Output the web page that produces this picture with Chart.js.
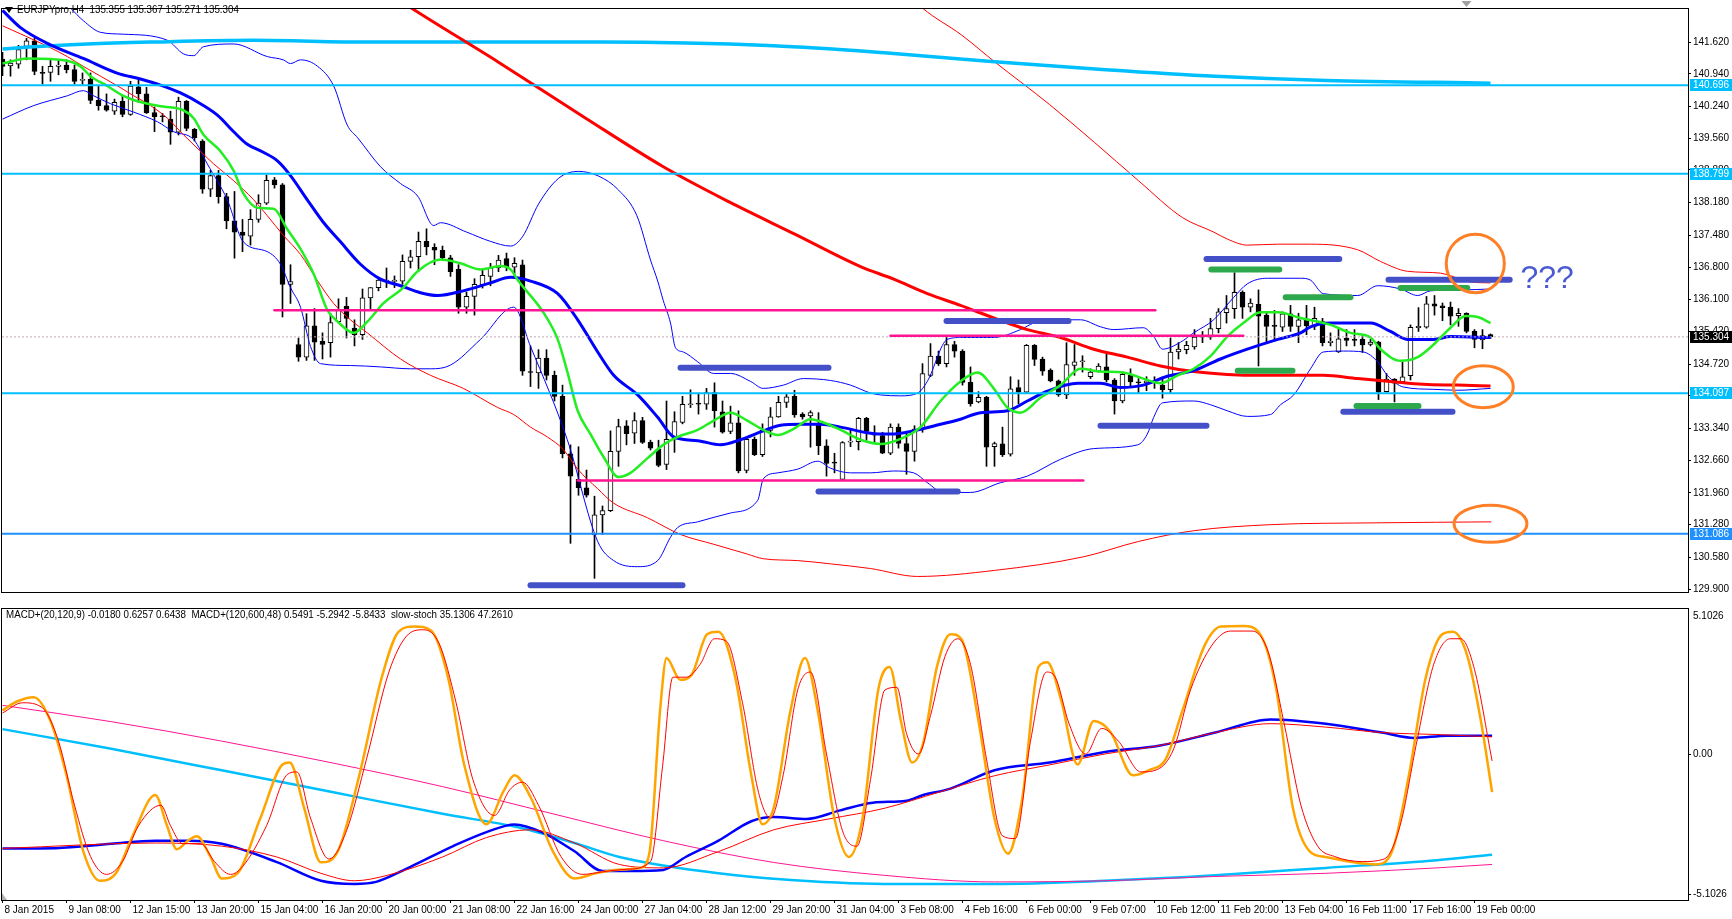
<!DOCTYPE html>
<html>
<head>
<meta charset="utf-8">
<script src="https://cdn.jsdelivr.net/npm/chart.js@4.4.1/dist/chart.umd.min.js"></script>
<style>
  html, body { margin: 0; padding: 0; background: #fff; }
  #main { position: absolute; left: 0; top: 0; }
  #sub { position: absolute; left: 0; top: 600px; }
</style>
</head>
<body>
<canvas id="main" width="1732" height="600"></canvas>
<canvas id="sub" width="1732" height="319"></canvas>
<script>
// ---- EURJPYpro H4 candles (bar index 0..186) ----
const opens = [
  141.25,141.11,141.15,141.53,141.65,140.96,140.97,141.10,141.13,141.03,
  140.80,140.82,140.37,140.26,140.14,140.35,140.07,140.66,140.51,140.11,
  140.03,139.97,139.69,140.35,139.75,139.50,138.47,138.76,138.31,137.79,
  137.55,137.46,137.82,138.17,138.67,138.56,136.43,135.14,134.87,135.54,
  135.21,135.18,135.63,135.96,135.49,135.35,136.14,136.36,136.50,136.49,
  136.50,136.92,137.02,137.35,137.22,137.16,137.00,136.75,135.94,136.17,
  136.42,136.60,136.78,136.98,136.80,136.85,134.56,134.53,134.85,134.48,
  134.03,132.80,132.25,132.07,131.06,131.49,131.58,132.85,133.40,133.24,
  133.51,133.05,132.90,132.57,133.11,133.47,133.85,133.87,133.86,134.11,
  133.70,133.28,133.46,132.44,133.11,132.78,133.30,133.59,133.90,134.03,
  133.65,133.61,133.44,132.97,132.61,132.25,133.05,133.06,133.56,133.23,
  133.19,132.81,133.37,133.02,132.85,133.33,134.48,134.89,134.73,135.14,
  135.00,134.33,133.91,134.01,132.95,133.01,132.79,134.22,134.12,135.12,
  134.83,134.59,134.36,134.06,134.69,134.77,134.45,134.57,134.66,134.38,
  133.93,134.48,134.33,134.32,134.33,134.27,134.17,134.98,135.03,135.09,
  135.30,135.30,135.48,135.82,135.91,136.26,135.94,136.00,135.77,135.54,
  135.51,135.80,135.53,135.67,135.53,135.63,135.18,134.98,135.28,135.24,
  135.25,135.14,135.19,134.13,134.40,134.34,134.47,135.50,135.51,136.01,
  135.97,135.94,135.76,135.81,135.42,135.24,135.355
];
const highs = [
  141.40,141.24,141.55,141.70,141.70,141.10,141.24,141.24,141.24,141.13,
  140.96,140.96,140.68,140.51,140.40,140.47,140.78,140.85,140.65,140.23,
  140.09,140.14,140.44,140.37,139.77,139.53,138.87,138.87,138.38,138.42,
  137.82,138.03,138.35,138.77,138.72,138.59,136.85,135.28,135.80,135.91,
  135.39,135.81,136.12,136.15,135.67,136.33,136.36,136.57,136.78,136.61,
  137.06,137.16,137.55,137.62,137.30,137.25,137.05,136.85,136.26,136.55,
  136.75,136.88,137.05,137.10,137.00,136.95,135.11,135.03,135.03,134.57,
  134.27,132.99,132.95,132.45,131.89,131.68,133.29,133.54,133.51,133.68,
  133.58,133.09,133.09,133.93,133.70,134.03,134.17,134.10,134.20,134.32,
  133.93,133.82,133.72,133.16,133.16,133.44,133.79,134.03,134.07,134.16,
  133.68,133.72,133.68,133.10,132.81,133.06,133.31,133.58,133.58,133.40,
  133.26,133.44,133.44,133.23,133.40,134.73,135.16,135.00,135.32,135.21,
  135.03,134.66,134.13,134.03,133.05,133.37,134.45,134.38,135.14,135.14,
  134.87,134.62,134.38,135.18,135.14,134.90,134.62,134.73,134.97,134.41,
  134.55,134.62,134.41,134.45,134.45,134.41,135.28,135.18,135.21,135.46,
  135.42,135.70,135.91,136.19,136.68,136.29,136.12,136.31,135.84,135.87,
  135.84,135.98,135.81,135.98,135.94,135.70,135.39,135.49,135.46,135.46,
  135.35,135.25,135.21,134.52,134.41,134.76,135.56,135.93,136.17,136.19,
  136.03,136.05,135.91,135.82,135.46,135.46,135.367
];
const lows = [
  140.90,140.89,141.06,141.24,140.92,140.72,140.78,140.92,140.96,140.72,
  140.72,140.30,140.16,140.14,140.07,140.02,140.05,140.33,140.09,139.70,
  139.91,139.43,139.63,139.72,139.50,138.38,138.31,138.17,137.62,136.99,
  137.13,137.27,137.76,138.14,138.49,135.73,136.02,134.78,134.80,134.80,
  134.83,134.87,135.60,135.28,135.11,135.25,135.91,136.29,136.36,136.36,
  136.43,136.78,136.71,137.06,136.85,136.95,136.60,135.81,135.81,135.77,
  136.35,136.40,136.70,136.72,136.62,134.48,134.24,134.20,134.38,133.93,
  132.71,130.88,131.91,131.87,130.13,131.07,131.56,132.53,132.99,133.02,
  133.02,132.88,132.52,132.46,132.83,133.44,133.79,133.65,133.75,133.37,
  133.24,133.23,132.39,132.39,132.76,132.74,133.16,133.58,133.79,133.58,
  133.54,132.94,132.78,132.32,132.39,132.24,132.95,132.88,133.09,133.02,
  132.80,132.78,132.92,132.36,132.64,133.26,134.45,134.69,134.66,134.87,
  134.27,133.82,133.89,132.53,132.53,132.74,132.75,133.87,134.10,134.69,
  134.48,134.34,134.03,133.98,134.48,134.55,134.41,134.55,134.34,133.65,
  133.89,134.24,134.10,134.15,134.20,133.99,134.10,134.83,134.94,135.04,
  135.18,135.25,135.39,135.60,135.70,135.70,135.84,134.68,135.18,135.21,
  135.42,135.42,135.18,135.35,135.46,135.11,135.11,134.97,135.11,135.11,
  134.97,135.11,133.96,134.12,133.91,134.31,134.38,135.42,135.49,135.77,
  135.65,135.56,135.53,135.39,135.07,135.05,135.271
];
const closes = [
  141.10,141.17,141.46,141.65,140.99,140.95,141.10,141.13,141.03,140.78,
  140.80,140.37,140.26,140.16,140.33,140.07,140.68,140.51,140.11,140.02,
  140.02,139.69,140.35,139.77,139.57,138.47,138.76,138.31,137.79,137.55,
  137.48,137.82,138.17,138.66,138.56,136.43,136.49,134.87,135.54,135.19,
  135.14,135.61,135.88,135.70,135.35,136.14,136.36,136.52,136.51,136.52,
  136.92,137.02,137.35,137.23,137.16,137.00,136.70,135.94,136.17,136.43,
  136.62,136.78,136.95,136.80,136.88,134.57,134.54,134.85,134.48,134.03,
  132.80,132.32,132.07,131.91,131.49,131.58,132.85,133.38,133.23,133.51,
  133.04,132.92,132.55,133.11,133.49,133.86,133.87,133.86,134.11,133.72,
  133.26,133.46,132.43,133.11,132.78,133.30,133.59,133.90,134.02,133.63,
  133.59,133.68,132.97,132.59,132.60,133.04,133.06,133.56,133.28,133.20,
  132.81,133.37,133.02,132.85,133.33,134.52,134.89,134.73,135.14,135.00,
  134.33,133.87,134.01,132.94,133.02,132.78,134.19,134.12,135.12,134.82,
  134.57,134.36,134.06,134.71,134.77,134.78,134.55,134.68,134.38,133.93,
  134.50,134.34,134.32,134.36,134.32,134.17,134.98,135.04,135.12,135.30,
  135.31,135.48,135.84,135.91,136.26,135.94,136.03,135.75,135.53,135.53,
  135.80,135.53,135.67,135.54,135.70,135.18,135.21,135.26,135.23,135.23,
  135.13,135.19,134.12,134.40,134.31,134.45,135.51,135.53,136.01,135.96,
  135.93,135.75,135.81,135.42,135.25,135.33,135.304
];

// time axis labels, one every 8 bars
const timeLabels = [
  "8 Jan 2015", "9 Jan 08:00", "12 Jan 15:00", "13 Jan 20:00", "15 Jan 04:00",
  "16 Jan 20:00", "20 Jan 00:00", "21 Jan 08:00", "22 Jan 16:00", "24 Jan 00:00",
  "27 Jan 04:00", "28 Jan 12:00", "29 Jan 20:00", "31 Jan 04:00", "3 Feb 08:00",
  "4 Feb 16:00", "6 Feb 00:00", "9 Feb 07:00", "10 Feb 12:00", "11 Feb 20:00",
  "13 Feb 04:00", "16 Feb 11:00", "17 Feb 16:00", "19 Feb 00:00"
];
const priceTicks = [141.62, 140.94, 140.24, 139.56, 138.88, 138.18, 137.48, 136.80, 136.10,
  135.42, 134.72, 134.04, 133.34, 132.66, 131.96, 131.28, 130.58, 129.90];

// indicator lines, [bar, value]
const greenMA = [[0,141.16],[3.1,141.27],[8.1,141.22],[9.75,141.10],[11,140.89],[13.1,140.68],[15.1,140.47],[17.6,140.32],[20.1,140.24],[22.6,140.16],[23.9,139.99],[25.1,139.64],[27.25,139.28],[28.9,138.86],[30.1,138.38],[31.9,138.07],[33.9,138.05],[35.6,137.61],[37.25,137.19],[38.9,136.65],[40.6,135.88],[41.9,135.63],[43.9,135.39],[45.6,135.63],[47.6,136.02],[50.1,136.36],[51.9,136.71],[54.75,136.96],[57.25,136.88],[59.75,136.75],[62.25,136.82],[63.5,136.75],[64.5,136.50],[67.6,135.83],[69.4,135.25],[70.6,134.56],[71.9,133.72],[73.5,133.22],[75.1,132.74],[77,132.30],[78.5,132.39],[80.6,132.70],[82.6,132.99],[84.4,133.16],[86.9,133.31],[88.9,133.51],[91,133.68],[93.1,133.51],[95.1,133.31],[96.9,133.20],[98.9,133.33],[101,133.54],[102.6,133.47],[104.75,133.31],[107.25,133.10],[109.75,133.01],[112.25,133.12],[114.75,133.37],[117.25,133.93],[119.75,134.35],[121.9,134.54],[123.9,134.20],[125.6,133.79],[127.25,133.68],[129.75,134.00],[132.25,134.27],[134.75,134.62],[137.25,134.56],[140.1,134.54],[142.6,134.41],[144.75,134.31],[146.9,134.48],[148.9,134.62],[151,134.89],[153.1,135.31],[155.1,135.60],[157.25,135.83],[159.4,135.83],[162.25,135.71],[166,135.56],[168.5,135.39],[171,135.29],[172.25,135.04],[174.75,134.79],[176.9,134.87],[178.9,135.14],[181,135.50],[182.9,135.75],[184.4,135.73],[186,135.60]];
const blueMA = [[0,142.3],[2.25,141.93],[6,141.56],[10.1,141.27],[14.4,140.95],[17.25,140.83],[19.75,140.70],[22.25,140.53],[24.75,140.30],[26.9,140.05],[28.9,139.70],[30.6,139.43],[32.6,139.26],[34.4,139.07],[36,138.76],[38.1,138.24],[40.1,137.76],[42.25,137.34],[44.75,136.86],[47.25,136.54],[49.75,136.40],[52.25,136.25],[54.4,136.19],[57.6,136.29],[61,136.46],[63.5,136.58],[66,136.50],[69.4,136.23],[71.9,135.67],[74.4,134.98],[76.4,134.48],[79.4,134.06],[81.9,133.58],[83.9,133.16],[86.9,133.08],[89.75,132.99],[92.25,133.10],[95.1,133.29],[97.25,133.41],[99.75,133.43],[102.25,133.43],[104.75,133.37],[108.5,133.24],[111,133.22],[113.9,133.29],[117.25,133.43],[119.75,133.54],[122.25,133.68],[125.6,133.72],[128.1,133.93],[130.6,134.14],[134.4,134.31],[137.25,134.31],[139.75,134.22],[142.6,134.27],[145.6,134.46],[148.9,134.58],[152.25,134.83],[155.6,135.04],[159.4,135.25],[162.25,135.39],[163.5,135.52],[166,135.60],[171,135.60],[173.5,135.42],[175.6,135.25],[178.9,135.25],[181,135.31],[186,135.29]];
const redMA = [[0,147.9],[37.25,143.92],[51.1,142.35],[61.9,141.20],[72.9,139.99],[82.6,138.95],[90.9,138.19],[99.1,137.50],[107.25,136.81],[111.4,136.54],[115.6,136.23],[119.75,135.98],[123.9,135.71],[128.1,135.46],[132.25,135.29],[136.4,135.04],[140.6,134.87],[144.75,134.68],[148.9,134.56],[153.1,134.50],[157.25,134.48],[162.25,134.48],[165.1,134.48],[169.4,134.41],[173.5,134.35],[177.6,134.29],[181.9,134.27],[186,134.25]];
const cyanMA = [[0,141.47],[3.9,141.52],[10.6,141.58],[18.5,141.62],[31.4,141.66],[45.6,141.62],[54.75,141.62],[74.75,141.62],[96.4,141.54],[110.25,141.39],[124,141.20],[137.9,141.03],[151.6,140.89],[165.5,140.80],[186,140.74]];
const bbUpper = [[4.75,142.98],[8.5,142.35],[10.1,142.08],[12.25,141.83],[15.1,141.79],[20.6,141.66],[22.6,141.37],[23.9,141.33],[25.1,141.52],[28.9,141.58],[33.1,141.31],[35.1,141.24],[36,141.16],[37.25,141.24],[39.4,141.10],[41.4,140.68],[43.1,139.84],[44.4,139.57],[47.25,138.95],[49.75,138.59],[51.9,138.32],[53.9,137.69],[54.75,137.75],[58,137.55],[61,137.35],[63.5,137.25],[65,137.45],[67,138.15],[69.5,138.70],[72,138.85],[74.5,138.75],[77,138.45],[79.3,137.90],[81,136.95],[81.9,136.50],[82.6,136.08],[83.5,135.60],[84.1,135.08],[85.1,134.98],[86.9,134.77],[88.9,134.52],[91,134.52],[93.5,134.35],[95.1,134.20],[97.6,134.27],[100.1,134.41],[103.5,134.37],[106,134.27],[108.5,134.10],[109.75,134.06],[112.25,134.04],[114.4,134.10],[115.6,134.35],[118.1,135.25],[119.75,135.29],[123.9,135.29],[127.25,135.46],[128.9,135.60],[131.4,135.67],[134.75,135.67],[137.25,135.52],[138.9,135.46],[142.6,135.50],[143.9,135.31],[145,135.04],[147.25,135.19],[148.9,135.39],[151.4,135.67],[153.9,136.15],[155.6,136.44],[158.1,136.56],[162.25,136.56],[163.5,136.52],[165.1,136.23],[169.4,136.19],[171.9,136.40],[174.75,136.33],[176.9,136.19],[178.5,136.29],[182.6,136.31],[186,136.33]];
const bbLower = [[0,139.97],[3.9,140.26],[8.1,140.47],[10.1,140.58],[11.4,140.47],[13.5,140.30],[16.4,140.12],[19.4,139.91],[21.4,139.70],[23.9,139.53],[25.6,139.01],[28.1,138.24],[30.1,137.34],[33.1,137.13],[34.75,136.86],[36,136.36],[37.25,135.94],[38.5,135.10],[39.75,134.73],[43.5,134.69],[47.25,134.66],[51,134.62],[53.5,134.62],[56,134.70],[59.75,135.25],[63.9,135.94],[66,135.10],[70.6,133.10],[74.4,130.92],[76.4,130.51],[79.4,130.38],[81.9,130.51],[83.5,131.01],[84.4,131.22],[86.9,131.34],[91,131.53],[94.4,131.80],[95.1,132.26],[96.9,132.39],[99.4,132.47],[101.9,132.64],[103.5,132.49],[106,132.39],[108.5,132.39],[111.4,132.43],[113.9,132.39],[115.6,132.18],[117.6,131.97],[121,131.97],[124.75,132.18],[128.1,132.32],[132.25,132.68],[136.4,132.91],[141.9,132.99],[143.1,133.22],[143.9,133.58],[145,133.89],[148.9,133.93],[151,133.85],[153.1,133.72],[155.6,133.60],[158.5,133.64],[159.75,133.85],[161.4,134.06],[163.5,134.62],[165.1,134.98],[167.6,135.00],[170.1,134.98],[171.9,134.77],[173.1,134.48],[175.1,134.23],[178.9,134.18],[181.9,134.16],[186,134.20]];
const redUpper = [[107.25,143.71],[115,142.35],[119.9,141.77],[124,141.20],[130.9,140.28],[136.5,139.47],[142,138.65],[147.5,137.86],[151.4,137.55],[153.1,137.40],[155.6,137.27],[159.4,137.29],[163.5,137.29],[169.4,137.17],[172.25,136.92],[175.6,136.71],[179.75,136.67],[183.5,136.48],[186,136.46]];
const redLower = [[0,141.97],[5.75,141.52],[8.1,141.31],[10.1,141.10],[12.25,140.89],[14.4,140.68],[16.4,140.47],[18.5,140.26],[20.6,139.99],[22.6,139.64],[24.75,139.28],[26.4,139.01],[28.9,138.65],[31.4,138.24],[33.1,137.90],[35.1,137.48],[37.25,137.07],[39.4,136.50],[41.4,136.02],[43.5,135.67],[45.6,135.39],[49.75,134.83],[53.5,134.48],[57.6,134.20],[61.9,133.79],[63.9,133.64],[66,133.37],[68.1,133.16],[70.1,132.89],[71.9,132.47],[74.4,132.05],[76.4,131.74],[80.6,131.43],[84.75,131.07],[88.9,130.86],[93.1,130.65],[95.1,130.55],[99.4,130.51],[103.5,130.44],[108.5,130.34],[114.4,130.17],[124,130.30],[135.1,130.59],[142,130.92],[148.9,131.15],[158.5,131.28],[172.4,131.32],[186.1,131.34]];

// drawn objects
const levelPrices = [140.696, 138.799, 134.097, 131.086];
const levelColors = ['#00bfff', '#00bfff', '#00bfff', '#1e90ff'];
const bidPrice = 135.304;
const pinkLevels = [[34, 144.1, 135.875], [111, 155.1, 135.33], [71.9, 135.1, 132.227]];
const blueMarks = [[84.75, 103.25, 134.64], [66, 85, 129.98], [102, 119.4, 131.99], [118, 133.25, 135.645],
  [137.25, 150.5, 133.40], [150.5, 167.1, 136.975], [173.25, 188.4, 136.53], [167.6, 181.25, 133.70]];
const greenMarks = [[151.1, 159.6, 136.745], [160.4, 168.5, 136.154], [154.4, 161.25, 134.58],
  [174.75, 183.1, 136.35], [169.25, 177, 133.82]];
// circles: [bar, price, radius in bars, radius in price]
const circles = [[184.1, 136.878, 3.63, 0.627], [185.1, 134.235, 3.75, 0.449], [186, 131.30, 4.56, 0.397]];
const questionAt = [189.75, 136.355];

// ---- lower window ----
const macdMain = [[0,-3.30],[6.65,-3.29],[13.6,-3.14],[19.1,-3.03],[23.2,-3.03],[27.4,-3.14],[34.3,-3.78],[39.8,-4.43],[44,-4.54],[46.7,-4.47],[50.8,-3.97],[56.4,-3.21],[60.5,-2.73],[64,-2.46],[67.4,-2.73],[71.5,-3.40],[75,-4.09],[78.5,-4.09],[82.6,-4.05],[85.4,-3.60],[89.5,-3.03],[93.6,-2.35],[96.4,-2.20],[100.5,-2.27],[104.7,-1.97],[108.8,-1.70],[113,-1.63],[115,-1.44],[118.5,-1.21],[124,-0.57],[130.9,-0.30],[137.8,0.07],[144.7,0.30],[151.6,0.75],[158.5,1.21],[165.4,1.06],[172.4,0.75],[176.5,0.56],[180.6,0.64],[186.2,0.64]];
const macdSignal = [[0,-3.30],[19.1,-3.11],[27.4,-3.22],[34.3,-3.60],[39.8,-4.17],[44,-4.43],[48.1,-4.24],[55,-3.60],[60.5,-2.92],[66,-2.65],[71.5,-3.11],[77.1,-3.86],[82.6,-3.98],[89.5,-3.41],[96.4,-2.65],[103.3,-2.27],[110.2,-1.90],[117.1,-1.33],[124,-0.76],[130.9,-0.38],[137.8,0.00],[144.7,0.30],[151.6,0.75],[158.5,1.06],[165.4,0.94],[172.4,0.75],[179.3,0.68],[186.2,0.60]];
const macdSlowMain = [[0,0.87],[13.6,0.18],[27.4,-0.57],[41.2,-1.33],[55,-2.09],[64.7,-2.58],[71.5,-3.11],[77.1,-3.60],[82.6,-3.90],[89.5,-4.17],[96.4,-4.36],[110.2,-4.54],[124,-4.54],[137.8,-4.43],[151.6,-4.24],[165.4,-3.98],[179.3,-3.71],[186.2,-3.52]];
const macdSlowSignal = [[0,1.70],[13.6,1.13],[27.4,0.45],[41.2,-0.31],[55,-1.14],[68.8,-2.09],[82.6,-3.03],[96.4,-3.79],[110.2,-4.24],[124,-4.47],[137.8,-4.43],[151.6,-4.28],[165.4,-4.17],[179.3,-3.98],[186.2,-3.86]];
const stochMain = [[0,67],[1.8,70.5],[3.9,72.2],[6,62.9],[8,41.7],[10.1,12],[12.2,0.5],[14.2,3.5],[16.3,18.3],[19.1,34],[20.5,22.6],[21.8,12.8],[23.2,16.2],[24.3,17.9],[26,9.8],[27.4,1.4],[29.4,3.5],[32.2,24.7],[35,45.9],[35.9,46.7],[37.7,29],[39.8,7.7],[41.9,11.9],[44.6,41.7],[47.4,79.8],[49.5,97.7],[51.5,99.8],[53.6,98.1],[55.7,79.8],[57.7,46],[60.5,22.6],[62.6,35.3],[64,41.7],[66,33.2],[68.8,12],[71.5,1.4],[74.3,3.5],[77.1,4.8],[79.8,5.6],[80.9,12],[82.2,67],[83,87.5],[84.7,79],[86.1,80.7],[88.1,96.8],[89.5,97.7],[91.6,79.8],[93.6,41.7],[95,22.6],[96.4,29],[98.5,67],[100.3,87.5],[101.9,67],[104,24.7],[105.8,9.8],[107.5,24.7],[109.5,75.6],[110.9,84],[112.3,62.9],[113.7,46.7],[115.1,54.4],[116.8,84],[118.5,96.8],[119.9,94.7],[122,62.9],[124,24.7],[125.7,11.1],[127.5,33.2],[129.5,84],[130.6,85.8],[132.3,71.4],[134.4,45.9],[136.4,62.9],[138.5,58.6],[141.3,41.7],[143.4,43.8],[145.4,48],[147.5,67],[150.3,92.6],[152.3,99.8],[155.1,100],[157.2,96.8],[159.2,75.6],[161.3,28.9],[163.4,12],[165.4,9.8],[168.9,7.7],[171.7,6.9],[173.7,12],[175.8,41.7],[177.9,79.8],[180,96.8],[181.3,97.7],[183.1,88.3],[184.8,62.9],[186.2,35.1]];
const stochSignal = [[0,66],[2.5,70],[5,68],[7,55],[9,30],[11,10],[13,3],[15,8],[17,22],[19.8,30],[21,22],[22.5,15],[24.8,15],[26.5,8],[28.5,3],[30,6],[33,22],[35.6,42],[36.8,43],[38.5,25],[40.8,9],[43,20],[45.5,48],[48.3,82],[50.5,96],[52.6,98.5],[54.6,93],[56.7,70],[58.8,40],[61.5,26],[63.4,36],[65,39],[67,30],[69.8,10],[72.5,3],[75,4],[78,5],[81,8],[82.5,45],[83.8,80],[85.5,80],[87.2,85],[89,95],[90.5,94],[92.5,70],[94.5,35],[96,25],[97.6,42],[99.4,75],[101,82],[103,50],[105,20],[106.8,14],[108.5,40],[110.3,75],[111.8,76],[113,58],[114.5,50],[116,65],[117.8,88],[119.4,95],[121,85],[123,48],[125,18],[126.6,17],[128.5,55],[130.5,82],[131.6,80],[133.3,62],[135.4,50],[137.4,60],[139.5,55],[142.3,43],[144.4,44],[146.4,52],[148.5,75],[151.3,93],[153.5,98],[156.2,98],[158.2,90],[160.2,62],[162.3,30],[164.4,14],[166.5,10],[170,8],[172.7,9],[174.7,22],[176.8,55],[178.9,85],[181,95],[182.3,95],[184,83],[186.2,47.3]];
const subTickValues = [4.83, 0, -4.90]; // label rows sit just inside the window edges
const subTickLabels = ['5.1026', '0.00', '-5.1026'];

const mainHeader = 'EURJPYpro,H4  135.355 135.367 135.271 135.304';
const subHeader = 'MACD+(20,120,9) -0.0180 0.6257 0.6438  MACD+(120,600,48) 0.5491 -5.2942 -5.8433  slow-stoch 35.1306 47.2610';

// ---- setup ----
const FONT = "'Liberation Sans', Arial, sans-serif";
Chart.defaults.font.family = FONT;
Chart.defaults.font.size = 10;
Chart.defaults.color = '#000';

const X_MIN = -0.0625, X_MAX = 210.6875;   // 8px per bar
const Y_MIN = 129.837, Y_MAX = 142.351;

const pts = (arr) => arr.map(p => ({ x: p[0], y: p[1] }));
const line = (arr, color, width, order, extra) => Object.assign({
  type: 'line', data: pts(arr), borderColor: color, borderWidth: width,
  pointRadius: 0, fill: false, cubicInterpolationMode: 'monotone', order
}, extra || {});
const seg = (x1, x2, y, color, width, order) => ({
  type: 'line', data: [{ x: x1, y }, { x: x2, y }], borderColor: color, borderWidth: width,
  pointRadius: 0, fill: false, borderCapStyle: 'round', order
});

// header text a bit narrower, like the terminal's font
function headerText(ctx, text, x, y) {
  ctx.save();
  ctx.translate(x, y);
  ctx.scale(0.93, 1);
  ctx.font = '10.5px ' + FONT;
  ctx.textBaseline = 'middle';
  ctx.fillStyle = '#000';
  ctx.fillText(text, 0, 0);
  ctx.restore();
}

const frame = {
  id: 'frame',
  afterDatasetsDraw(chart) {
    const a = chart.chartArea, ctx = chart.ctx;
    ctx.save();
    ctx.strokeStyle = '#000';
    ctx.lineWidth = 1;
    ctx.strokeRect(a.left - 0.5, a.top + 0.5, a.right - a.left + 1, a.bottom - a.top);
    ctx.restore();
  }
};

const mainDecor = {
  id: 'mainDecor',
  afterDatasetsDraw(chart) {
    const ctx = chart.ctx, xs = chart.scales.x, ys = chart.scales.y;
    ctx.save();
    // circles
    ctx.strokeStyle = '#ff7f27';
    ctx.lineWidth = 3;
    circles.forEach(c => {
      const cx = xs.getPixelForValue(c[0]), cy = ys.getPixelForValue(c[1]);
      const rx = xs.getPixelForValue(c[0] + c[2]) - cx;
      const ry = cy - ys.getPixelForValue(c[1] + c[3]);
      ctx.beginPath();
      ctx.ellipse(cx, cy, rx, ry, 0, 0, Math.PI * 2);
      ctx.stroke();
    });
    // ???
    ctx.fillStyle = '#4a5ad0';
    ctx.font = '32px ' + FONT;
    ctx.textBaseline = 'alphabetic';
    ctx.textAlign = 'left';
    ctx.fillText('???', xs.getPixelForValue(questionAt[0]), ys.getPixelForValue(questionAt[1]));
    // header
    ctx.fillStyle = '#000';
    ctx.beginPath();
    ctx.moveTo(5, 7); ctx.lineTo(13, 7); ctx.lineTo(9, 13); ctx.closePath(); ctx.fill();
    headerText(ctx, mainHeader, 17, 10);
    // chart shift marker
    const sx = xs.getPixelForValue(183);
    ctx.fillStyle = '#a0a0a0';
    ctx.beginPath();
    ctx.moveTo(sx - 5, 1); ctx.lineTo(sx + 5, 1); ctx.lineTo(sx, 7); ctx.closePath(); ctx.fill();
    // price tags on the right axis
    const tagX = chart.chartArea.right + 2;
    const tags = levelPrices.map((p, i) => [p, levelColors[i], '#fff']).concat([[bidPrice, '#000', '#fff']]);
    tags.forEach(t => {
      const y = Math.round(ys.getPixelForValue(t[0]));
      ctx.fillStyle = t[1];
      ctx.fillRect(tagX, y - 6, 1732 - tagX, 12);
      ctx.fillStyle = t[2];
      ctx.font = '10px ' + FONT;
      ctx.textBaseline = 'middle';
      ctx.fillText(t[0].toFixed(3), tagX + 3, y + 0.5);
    });
    ctx.restore();
  }
};

const subDecor = {
  id: 'subDecor',
  afterDatasetsDraw(chart) {
    const ctx = chart.ctx;
    headerText(ctx, subHeader, 6, 15);
    ctx.save();
    ctx.fillStyle = '#b0b0b0';
    ctx.beginPath();
    ctx.moveTo(2, 293); ctx.lineTo(2, 300); ctx.lineTo(7, 300); ctx.closePath(); ctx.fill();
    ctx.restore();
  }
};

// ---- main window ----
const mainSets = [
  { type: 'bar', data: opens.map((o, i) => ({ x: i, y: [lows[i], highs[i]] })),
    backgroundColor: '#000', borderWidth: 0, barThickness: 1, order: 100 },
  { type: 'bar', data: opens.map((o, i) => ({ x: i, y: [o, closes[i]] })),
    backgroundColor: (c) => closes[c.dataIndex] >= opens[c.dataIndex] ? '#fff' : '#000',
    borderColor: '#000', borderWidth: 1, borderSkipped: false, barThickness: 5, minBarLength: 1, order: 99 },
  line(bbUpper, '#0000ff', 1, 60),
  line(bbLower, '#0000ff', 1, 60),
  line(redUpper, '#ff0000', 1, 59),
  line(redLower, '#ff0000', 1, 59),
  line(cyanMA, '#00bfff', 3.5, 58),
  line(redMA, '#ff0000', 3, 57),
  line(blueMA, '#0000ff', 3, 56),
  line(greenMA, '#22ee22', 2.5, 55),
  line([[X_MIN, bidPrice], [X_MAX, bidPrice]], '#c0aab4', 1, 40, { borderDash: [2, 2] })
];
levelPrices.forEach((p, i) => mainSets.push(line([[X_MIN, p], [X_MAX, p]], levelColors[i], 2, 30)));
pinkLevels.forEach(s => mainSets.push(seg(s[0], s[1], s[2], '#ff1493', 2.5, 25)));
blueMarks.forEach(s => mainSets.push(seg(s[0], s[1], s[2], '#4450c8', 6, 20)));
greenMarks.forEach(s => mainSets.push(seg(s[0], s[1], s[2], '#2ea84c', 6, 15)));

new Chart(document.getElementById('main'), {
  type: 'bar',
  data: { datasets: mainSets },
  options: {
    responsive: false, animation: false, events: [],
    layout: { padding: { left: 2, right: 0, top: 0, bottom: 1 } },
    plugins: { legend: { display: false }, tooltip: { enabled: false } },
    datasets: { bar: { grouped: false } },
    scales: {
      x: { type: 'linear', min: X_MIN, max: X_MAX, offset: false, display: false },
      y: {
        position: 'right', min: Y_MIN, max: Y_MAX,
        afterBuildTicks: (s) => { s.ticks = priceTicks.map(v => ({ value: v })); },
        afterFit: (s) => { s.width = 44; },
        grid: { drawOnChartArea: false, tickLength: 3, color: '#000' },
        border: { display: false },
        ticks: { padding: 2, callback: (v) => v.toFixed(3) }
      }
    }
  },
  plugins: [frame, mainDecor]
});

// ---- lower window ----
new Chart(document.getElementById('sub'), {
  type: 'line',
  data: {
    datasets: [
      line(stochSignal, '#ff0000', 1, 1, { yAxisID: 'ys' }),
      line(stochMain, '#ffa500', 2.5, 2, { yAxisID: 'ys' }),
      line(macdSignal, '#ff0000', 1, 3),
      line(macdMain, '#0000ff', 2.5, 4),
      line(macdSlowSignal, '#ff1493', 1, 5),
      line(macdSlowMain, '#00bfff', 2.5, 6)
    ]
  },
  options: {
    responsive: false, animation: false, events: [],
    layout: { padding: { left: 2, right: 0, top: 2, bottom: 0 } },
    plugins: { legend: { display: false }, tooltip: { enabled: false } },
    scales: {
      x: {
        type: 'linear', min: X_MIN, max: X_MAX, offset: false,
        afterBuildTicks: (s) => { s.ticks = timeLabels.map((t, k) => ({ value: k * 8 })); },
        afterFit: (s) => { s.height = 19; },
        grid: { drawOnChartArea: false, tickLength: 3, color: '#000' },
        border: { display: false },
        ticks: { callback: (v, i) => timeLabels[i], autoSkip: false, maxRotation: 0, minRotation: 0, align: 'start', padding: 1, labelOffset: 2 }
      },
      y: {
        position: 'right', min: -5.1026, max: 5.1026,
        afterBuildTicks: (s) => { s.ticks = subTickValues.map(v => ({ value: v })); },
        afterFit: (s) => { s.width = 44; },
        grid: { drawOnChartArea: false, tickLength: 3, color: (c) => c.index === 0 ? 'rgba(0,0,0,0)' : '#000' },
        border: { display: false },
        ticks: { padding: 2, callback: (v, i) => subTickLabels[i] }
      },
      ys: { display: false, min: -7, max: 107 }
    }
  },
  plugins: [frame, subDecor]
});
</script>
</body>
</html>
